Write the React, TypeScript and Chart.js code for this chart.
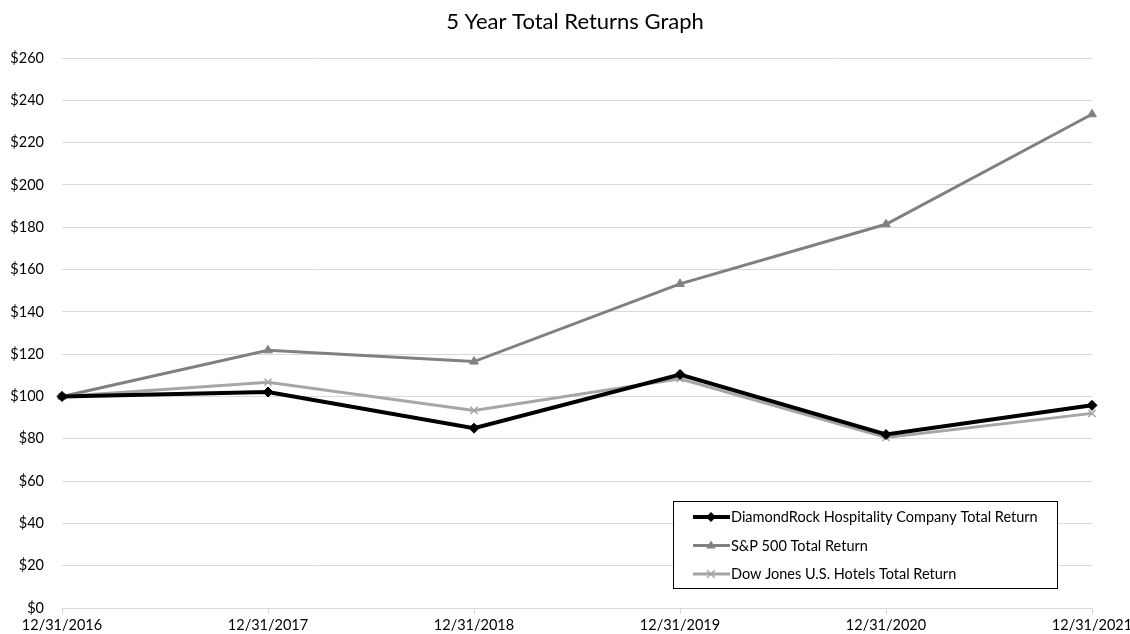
import React, { useEffect, useRef } from "react";
import { Chart, registerables } from "chart.js";

Chart.register(...registerables);

const categories = ["12/31/2016", "12/31/2017", "12/31/2018", "12/31/2019", "12/31/2020", "12/31/2021"];
const drhValues = [100, 102.1, 85.0, 110.4, 82.0, 95.8];
const spValues = [100, 121.8, 116.5, 153.2, 181.4, 233.4];
const djValues = [100, 106.7, 93.4, 108.4, 80.6, 92.0];
const seriesNames = [
  "DiamondRock Hospitality Company Total Return",
  "S&P 500 Total Return",
  "Dow Jones U.S. Hotels Total Return",
];
const titleText = "5 Year Total Returns Graph";

const FONT = "Lato, 'Open Sans', sans-serif";

function drawMarker(ctx: CanvasRenderingContext2D, style: string, x: number, y: number, r: number, color: string, bw: number) {
  ctx.save();
  ctx.fillStyle = color;
  ctx.strokeStyle = color;
  ctx.lineWidth = bw;
  ctx.beginPath();
  if (style === "rectRot") {
    ctx.moveTo(x, y - r);
    ctx.lineTo(x + r, y);
    ctx.lineTo(x, y + r);
    ctx.lineTo(x - r, y);
    ctx.closePath();
    ctx.fill();
  } else if (style === "triangle") {
    ctx.moveTo(x, y - r);
    ctx.lineTo(x + r * 0.95, y + r * 0.6);
    ctx.lineTo(x - r * 0.95, y + r * 0.6);
    ctx.closePath();
    ctx.fill();
  } else {
    const d = r * 0.75;
    ctx.moveTo(x - d, y - d);
    ctx.lineTo(x + d, y + d);
    ctx.moveTo(x + d, y - d);
    ctx.lineTo(x - d, y + d);
    ctx.stroke();
  }
  ctx.restore();
}

const overlayPlugin = {
  id: "overlay",
  afterDraw(chart: any) {
    const ctx: CanvasRenderingContext2D = chart.ctx;
    ctx.save();
    // title
    ctx.fillStyle = "#000";
    ctx.font = `22px ${FONT}`;
    ctx.textAlign = "center";
    ctx.textBaseline = "middle";
    ctx.fillText(titleText, 575, 22);
    // legend box
    const bx = 673, by = 501, bw = 384, bh = 87;
    ctx.fillStyle = "#fff";
    ctx.fillRect(bx, by, bw, bh);
    ctx.strokeStyle = "#000";
    ctx.lineWidth = 1;
    ctx.strokeRect(bx + 0.5, by + 0.5, bw, bh);
    chart.data.datasets.forEach((ds: any, i: number) => {
      const y = 517 + i * 28.5;
      ctx.strokeStyle = ds.borderColor;
      ctx.lineWidth = ds.borderWidth;
      ctx.beginPath();
      ctx.moveTo(693, y);
      ctx.lineTo(730, y);
      ctx.stroke();
      drawMarker(ctx, ds.pointStyle, 711, y, ds.pointRadius, ds.borderColor, 1.5);
      ctx.fillStyle = "#000";
      ctx.font = `14.5px ${FONT}`;
      ctx.textAlign = "left";
      ctx.textBaseline = "middle";
      ctx.fillText(ds.label, 731, y + 0.5);
    });
    ctx.restore();
  },
};

export default function App() {
  const ref = useRef<HTMLCanvasElement>(null);
  useEffect(() => {
    document.body.style.margin = "0";
    const chart = new Chart(ref.current!, {
      type: "line",
      data: {
        labels: categories,
        datasets: [
          {
            label: seriesNames[0],
            data: drhValues,
            borderColor: "#000000",
            backgroundColor: "#000000",
            borderWidth: 4,
            pointStyle: "rectRot",
            pointRadius: 5,
            pointBorderWidth: 1,
            tension: 0,
            order: 0,
          },
          {
            label: seriesNames[1],
            data: spValues,
            borderColor: "#808080",
            backgroundColor: "#808080",
            borderWidth: 3,
            pointStyle: "triangle",
            pointRadius: 5,
            pointBorderWidth: 1,
            tension: 0,
            order: 2,
          },
          {
            label: seriesNames[2],
            data: djValues,
            borderColor: "#a6a6a6",
            backgroundColor: "#a6a6a6",
            borderWidth: 3,
            pointStyle: "crossRot",
            pointRadius: 5,
            pointBorderWidth: 1.5,
            tension: 0,
            order: 1,
          },
        ] as any,
      },
      options: {
        animation: false,
        responsive: false,
        maintainAspectRatio: false,
        layout: { padding: { top: 58, right: 38, left: 0, bottom: 0 } },
        plugins: {
          legend: { display: false },
          title: { display: false },
          tooltip: { enabled: false },
        },
        scales: {
          x: {
            type: "category",
            offset: false,
            grid: { display: true, drawOnChartArea: false, drawTicks: true, tickLength: 6, color: "#d9d9d9" },
            border: { display: true, color: "#d9d9d9", width: 1 },
            ticks: { color: "#000", font: { family: FONT, size: 14.5 }, padding: 3, maxRotation: 0, autoSkip: false },
            afterFit: (s: any) => { s.height = 26; s.paddingLeft = 0; s.paddingRight = 0; },
          },
          y: {
            min: 0,
            max: 260,
            ticks: {
              stepSize: 20,
              color: "#000",
              font: { family: FONT, size: 14.5 },
              padding: 18,
              callback: (v: any) => "$" + v,
            },
            grid: { color: "#d9d9d9", drawTicks: false },
            border: { display: false },
            afterFit: (s: any) => { s.width = 62; s.paddingTop = 0; s.paddingBottom = 0; },
          },
        },
      } as any,
      plugins: [overlayPlugin],
    });
    return () => chart.destroy();
  }, []);
  return (
    <div style={{ position: "relative", width: 1130, height: 634, background: "#fff" }}>
      <canvas ref={ref} width={1130} height={634} style={{ width: 1130, height: 634, display: "block" }} />
    </div>
  );
}
